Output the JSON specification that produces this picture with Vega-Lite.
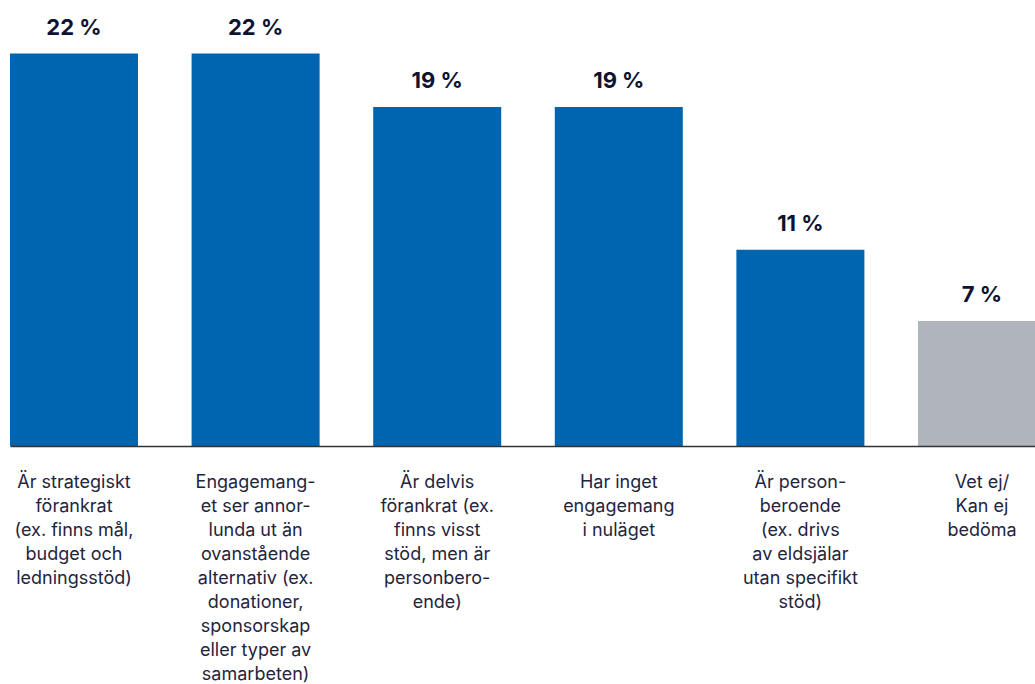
{
  "$schema": "https://vega.github.io/schema/vega-lite/v6.json",
  "autosize": {"type": "none"},
  "padding": {"left": 10, "top": 0, "right": 0, "bottom": 238},
  "width": 1036,
  "height": 446,
  "background": "white",
  "config": {
    "view": {"stroke": null},
    "font": "Inter"
  },
  "data": {
    "values": [
      {"cat": "Är strategiskt|förankrat|(ex. finns mål,|budget och|ledningsstöd)", "value": 22, "label": "22 %", "group": "a"},
      {"cat": "Engagemang-|et ser annor-|lunda ut än|ovanstående|alternativ (ex.|donationer,|sponsorskap|eller typer av|samarbeten)", "value": 22, "label": "22 %", "group": "a"},
      {"cat": "Är delvis|förankrat (ex.|finns visst|stöd, men är|personbero-|ende)", "value": 19, "label": "19 %", "group": "a"},
      {"cat": "Har inget|engagemang|i nuläget", "value": 19, "label": "19 %", "group": "a"},
      {"cat": "Är person-|beroende|(ex. drivs|av eldsjälar|utan specifikt|stöd)", "value": 11, "label": "11 %", "group": "a"},
      {"cat": "Vet ej/|Kan ej|bedöma", "value": 7, "label": "7 %", "group": "b"}
    ]
  },
  "encoding": {
    "x": {
      "field": "cat",
      "type": "nominal",
      "sort": null,
      "scale": {"paddingInner": 0.295, "paddingOuter": 0},
      "axis": {
        "title": null,
        "labelAngle": 0,
        "labelExpr": "split(datum.label, '|')",
        "labelFont": "Inter",
        "labelFontSize": 18,
        "labelColor": "#1f2440",
        "labelLineHeight": 24,
        "labelPadding": 27,
        "labelBaseline": "top",
        "labelLimit": 0,
        "ticks": false,
        "domainColor": "#333333",
        "domainWidth": 1.5,
        "zindex": 1
      }
    },
    "y": {
      "field": "value",
      "type": "quantitative",
      "scale": {"domain": [0, 25]},
      "axis": null
    }
  },
  "layer": [
    {
      "mark": {"type": "bar"},
      "encoding": {
        "color": {
          "field": "group",
          "type": "nominal",
          "scale": {"domain": ["a", "b"], "range": ["#0065b1", "#b0b5bc"]},
          "legend": null
        }
      }
    },
    {
      "mark": {"type": "text", "baseline": "bottom", "dy": -14, "fontSize": 22, "fontWeight": "bold", "color": "#0d1330", "font": "Inter"},
      "encoding": {"text": {"field": "label"}}
    }
  ]
}
